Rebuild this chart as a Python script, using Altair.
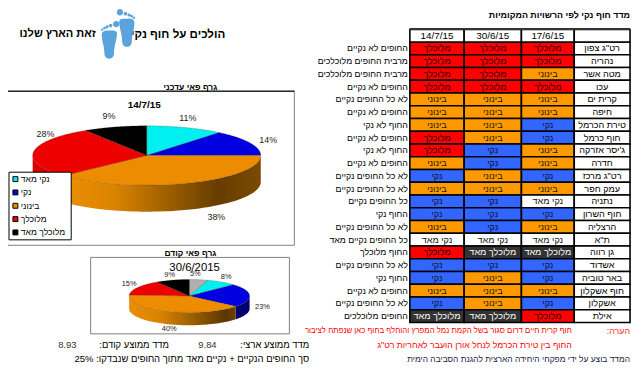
import math
import altair as alt
import numpy as np
import pandas as pd

FONT = "Liberation Sans"
RLM = "\u200f"
OX, OY = 8, 8

DATES = ["14/7/15", "30/6/15", "17/6/15"]
PLACES = ['רט"ג צפון', "נהריה", "מטה אשר", "עכו", "קרית ים", "חיפה", "טירת הכרמל", "חוף כרמל",
          "ג'יסר אזרקה", "חדרה", 'רט"ג מרכז', "עמק חפר", "נתניה", "חוף השרון", "הרצליה", 'ת"א',
          "גן רווה", "אשדוד", "באר טוביה", "חוף אשקלון", "אשקלון", "אילת"]
VC, C, M, D, VD = "נקי מאד", "נקי", "בינוני", "מלוכלך", "מלוכלך מאד"
COL_1 = [D, D, D, D, M, M, M, D, D, M, C, M, C, C, M, VC, D, C, C, M, C, VD]
COL_2 = [D, D, D, D, M, M, M, M, C, C, M, M, C, C, C, VC, VD, C, M, M, M, VD]
COL_3 = [D, D, M, D, M, M, C, C, M, M, C, M, VC, C, M, VC, VD, C, C, M, C, D]
COMMENTS = ["החופים לא נקיים", "מרבית החופים מלוכלכים", "מרבית החופים מלוכלכים", "החופים לא נקיים",
            "לא כל החופים נקיים", "החופים לא נקיים", "החוף לא נקי", "החופים לא נקיים", "החוף לא נקי",
            "החופים לא נקיים", "לא כל החופים נקיים", "לא כל החופים נקיים", "כל החופים נקיים", "החוף נקי",
            "לא כל החופים נקיים", "כל החופים נקיים מאד", "החוף מלוכלך", "לא כל החופים נקיים", "החוף נקי",
            "החופים לא נקיים", "לא כל החופים נקיים", "החופים מלוכלכים"]
CELL_FILL = {VC: "#ffffff", C: "#3366ff", M: "#ff9900", D: "#ff0000", VD: "#333333"}
CELL_TEXT = {VC: "#111111", C: "#111133", M: "#222200", D: "#220000", VD: "#ffffff"}

LEGEND = [VC, C, M, D, VD]
PIE_NOW = [11, 14, 38, 28, 9]
PIE_NOW_COLORS = ["#00f0f0", "#0000e0", "#ee8c00", "#ee0000", "#000000"]
PIE_PREV = [5, 8, 23, 40, 15, 9]
PIE_PREV_COLORS = ["#b0b0b0", "#00f0f0", "#0000e0", "#ee8c00", "#ee0000", "#000000"]
PIE_NOW_WALLS = ["#00f0f0", "#000070", None, "#d80000", "#000000"]
PIE_PREV_WALLS = ["#808080", "#00a0a0", "#000070", None, "#d80000", "#000000"]
ORANGE_WALL = [(0, "#ec8e00"), (0.25, "#dc8500"), (0.78, "#663d00"), (1, "#7a4a00")]
ORANGE_WALL_PREV = [(0, "#ec8e00"), (0.3, "#d88300"), (0.9, "#5c3700"), (1, "#6a4000")]
NOW_LABEL_NUDGE = [(2.5, -10), (18.5, -2.5), (28, 35), (12, -18), (-6, -11)]
PREV_LABEL_NUDGE = [(-3.5, -6), (4.6, -5), (13, 12), (2, 18), (-8.5, -4), (-3, -5.6)]


def X(v):
    return v - OX


def Y(v):
    return v - OY


def note(text, x, y, size=10, bold=False, align="right", color="#000000"):
    return alt.Chart(alt.Data(values=[{"t": text}])).mark_text(
        font=FONT, fontSize=size, fontWeight="bold" if bold else "normal",
        align=align, baseline="middle", color=color,
    ).encode(x=alt.value(X(x)), y=alt.value(Y(y)), text="t:N")


def box(x0, y0, x1, y1, fill="#ffffff", stroke="#808080", sw=1.0):
    return alt.Chart(alt.Data(values=[{}])).mark_rect(
        fill=fill, stroke=stroke, strokeWidth=sw,
    ).encode(x=alt.value(X(x0)), x2=alt.value(X(x1)), y=alt.value(Y(y0)), y2=alt.value(Y(y1)))


def slice_polygon(t0, t1):
    ts = np.linspace(t0, t1, 60)
    pts = [(0.0, 0.0)] + [(math.sin(t), -math.cos(t)) for t in ts]
    return pts


def vertical_spans(pts):
    xs = sorted({round(p[0], 6) for p in pts})
    rows = []
    n = len(pts)
    for x in xs:
        ys = []
        for i in range(n):
            a, b = pts[i], pts[(i + 1) % n]
            ax, bx = round(a[0], 6), round(b[0], 6)
            if min(ax, bx) <= x <= max(ax, bx):
                if ax == bx:
                    ys += [a[1], b[1]]
                else:
                    ys.append(a[1] + (b[1] - a[1]) * (x - ax) / (bx - ax))
        rows.append((x, min(ys), max(ys)))
    return rows


def pie(values, colors, walls, orange_stops, nudges, cx, cy, rx, ry, depth, lab_size):
    xs = alt.Scale(domain=[-1, 1], range=[X(cx - rx), X(cx + rx)], nice=False, zero=False)
    ys = alt.Scale(domain=[-1, 1], range=[Y(cy - ry), Y(cy + ry)], nice=False, zero=False)
    top, wall, labels = [], [], []
    cum = 0.0
    for k, v in enumerate(values):
        t0, t1 = 2 * math.pi * cum / 100, 2 * math.pi * (cum + v) / 100
        cum += v
        for x, lo, hi in vertical_spans(slice_polygon(t0, t1)):
            top.append({"s": k, "x": x, "a": lo, "b": hi, "fill": colors[k]})
        w0, w1 = max(t0, math.pi / 2), min(t1, 3 * math.pi / 2)
        if w1 > w0:
            for t in np.linspace(w0, w1, 60):
                wall.append({"s": k, "x": round(math.sin(t), 6), "a": -math.cos(t),
                             "b": -math.cos(t) + depth / ry, "fill": walls[k] or "gradient"})
        mid = (t0 + t1) / 2
        labels.append({"t": f"{v}%", "x": math.sin(mid) + nudges[k][0] / rx,
                       "y": -math.cos(mid) + nudges[k][1] / ry})
    wall_df = pd.DataFrame(wall)
    plain = wall_df[wall_df.fill != "gradient"]
    grad = wall_df[wall_df.fill == "gradient"]
    gradient = alt.Gradient(gradient="linear", x1=0, x2=1, y1=0, y2=0,
                            stops=[alt.GradientStop(offset=o, color=c) for o, c in orange_stops])
    enc = dict(x=alt.X("x:Q", scale=xs, axis=None),
               y=alt.Y("a:Q", scale=ys, axis=None, stack=None),
               y2="b:Q")
    layers = []
    if len(plain):
        layers.append(alt.Chart(plain).mark_area(interpolate="linear").encode(
            color=alt.Color("fill:N", scale=None), detail="s:N", **enc))
    layers.append(alt.Chart(grad).mark_area(interpolate="linear", color=gradient).encode(**enc))
    layers.append(alt.Chart(pd.DataFrame(top)).mark_area(
        interpolate="linear", stroke="#3a2000", strokeWidth=0.3, strokeOpacity=0.7).encode(
        color=alt.Color("fill:N", scale=None), stroke=alt.value("#3a2000"), detail="s:N", **enc))
    layers.append(alt.Chart(pd.DataFrame(labels)).mark_text(
        font=FONT, fontSize=lab_size, align="center", baseline="middle", color="#222222").encode(
        x=alt.X("x:Q", scale=xs, axis=None), y=alt.Y("y:Q", scale=ys, axis=None), text="t:N"))
    return layers


# ---- table ----
rows = []
for j, place in enumerate(PLACES):
    for i, col in enumerate([COL_1, COL_2, COL_3]):
        s = col[j]
        rows.append({"i": i, "i2": i + 1, "ic": i + 0.5, "j": j + 1, "j2": j + 2, "jc": j + 1.5,
                     "t": s, "fill": CELL_FILL[s], "ink": CELL_TEXT[s]})
    rows.append({"i": 3, "i2": 4, "ic": 3.5, "j": j + 1, "j2": j + 2, "jc": j + 1.5,
                 "t": place, "fill": "#ffffff", "ink": "#000000"})
for i in range(4):
    rows.append({"i": i, "i2": i + 1, "ic": i + 0.5, "j": 0, "j2": 1, "jc": 0.5,
                 "t": "", "fill": "#ffffff", "ink": "#000000"})
table = pd.DataFrame(rows)
header = pd.DataFrame({"t": DATES, "ic": [0.5, 1.5, 2.5], "jc": [0.5, 0.5, 0.5]})
tx = alt.Scale(domain=[0, 1, 2, 3, 4], range=[X(415), X(470), X(528), X(581.5), X(638)], nice=False, zero=False)
ty = alt.Scale(domain=[0, 1, 23], range=[Y(27.5), Y(40.2), Y(324.3)], nice=False, zero=False)
cells = alt.Chart(table).mark_rect(stroke="#000000", strokeWidth=1.6).encode(
    x=alt.X("i:Q", scale=tx, axis=None), x2="i2:Q",
    y=alt.Y("j:Q", scale=ty, axis=None), y2="j2:Q",
    fill=alt.Fill("fill:N", scale=None))
cell_text = alt.Chart(table).mark_text(font=FONT, fontSize=9.2, align="center", baseline="middle").encode(
    x=alt.X("ic:Q", scale=tx, axis=None), y=alt.Y("jc:Q", scale=ty, axis=None),
    text="t:N", color=alt.Color("ink:N", scale=None))
header_text = alt.Chart(header).mark_text(font=FONT, fontSize=10, align="center", baseline="middle", color="#000000").encode(
    x=alt.X("ic:Q", scale=tx, axis=None), y=alt.Y("jc:Q", scale=ty, axis=None), text="t:N")
comm = pd.DataFrame({"t": COMMENTS, "jc": [k + 1.5 for k in range(len(COMMENTS))]})
comment_text = alt.Chart(comm).mark_text(font=FONT, fontSize=8.9, align="right", baseline="middle", color="#000000").encode(
    x=alt.value(X(413)), y=alt.Y("jc:Q", scale=ty, axis=None), text="t:N")


# ---- logo ----
def circ(x, y, r):
    return f"M{x - r} {y}a{r} {r} 0 1 0 {2 * r} 0a{r} {r} 0 1 0 {-2 * r} 0Z"


def foot(m):
    sole = (f"M{-.03 * m} .95C{-.2 * m} .95 {-.27 * m} .8 {-.27 * m} .65C{-.27 * m} .3 {-.42 * m} 0 {-.4 * m} -.3"
            f"C{-.38 * m} -.45 {-.2 * m} -.5 {-.05 * m} -.47C{.15 * m} -.47 {.35 * m} -.5 {.37 * m} -.35"
            f"C{.38 * m} -.05 {.22 * m} .3 {.22 * m} .65C{.22 * m} .85 {.12 * m} .95 {-.03 * m} .95Z")
    toes = [(.33, -.8, .16), (.05, -.73, .09), (-.13, -.66, .08), (-.26, -.6, .07), (-.38, -.52, .06)]
    return sole + "".join(circ(x * m, y, r) for x, y, r in toes)


def foot_mark(m, x, y):
    return alt.Chart(alt.Data(values=[{}])).mark_point(
        shape=foot(m), filled=True, fill="#5ba3dc", stroke=None, opacity=1, size=1600,
    ).encode(x=alt.value(X(x)), y=alt.value(Y(y)))


# ---- legend ----
legend_df = pd.DataFrame({"name": LEGEND, "fill": PIE_NOW_COLORS})
ly = alt.Scale(type="point", domain=LEGEND, range=[Y(179), Y(233)], padding=0)
legend_sw = alt.Chart(legend_df).mark_square(size=25, stroke="#000000", strokeWidth=1, opacity=1).encode(
    x=alt.value(X(15.5)), y=alt.Y("name:N", scale=ly, axis=None),
    fill=alt.Fill("fill:N", scale=None))
legend_tx = alt.Chart(legend_df).mark_text(font=FONT, fontSize=8.7, align="left", baseline="middle", color="#000000").encode(
    x=alt.value(X(21)), y=alt.Y("name:N", scale=ly, axis=None), text="name:N")

layers = [
    note("הולכים על חוף נקי", 228, 32, size=11.7, bold=True),
    note("זאת הארץ שלנו", 97, 32, size=11.2, bold=True),
    foot_mark(1, 111, 38),
    foot_mark(-1, 128, 26),
    note("מדד חוף נקי לפי הרשויות המקומיות", 638, 13, size=9, bold=True),
    box(-5, 90, 298, 246),
    box(-5, 90, 298, 90, stroke="#222222", sw=1),
    note("גרף פאי עדכני", 220, 86, size=8.6, bold=True),
    note("14/7/15", 146, 104, bold=True, align="center"),
]
layers += pie(PIE_NOW, PIE_NOW_COLORS, PIE_NOW_WALLS, ORANGE_WALL, NOW_LABEL_NUDGE, 148.5, 155, 115.5, 30, 27, 9)
layers += [
    box(9, 172, 72, 240.5, stroke="#000000"),
    legend_sw, legend_tx,
    box(91.7, 258.3, 293, 335.7),
    note("גרף פאי קודם", 219, 254, size=8.6, bold=True),
]
layers += pie(PIE_PREV, PIE_PREV_COLORS, PIE_PREV_WALLS, ORANGE_WALL_PREV, PREV_LABEL_NUDGE, 191.7, 297.3, 61, 16.7, 13, 7.5)
layers += [
    note("30/6/2015", 197, 269, size=11.5, align="center"),
    note("מדד ממוצע ארצי:" + RLM, 313, 347, size=9.5),
    note("9.84", 210, 347, size=9.5, align="center", color="#333333"),
    note("מדד ממוצע קודם:" + RLM, 171, 347, size=9.5),
    note("8.93", 68, 347, size=9.5, align="center", color="#333333"),
    note("סך החופים הנקיים + נקיים מאד מתוך החופים שנבדקו: 25%" + RLM, 313, 361, size=9.6),
    cells, cell_text, header_text, comment_text,
    box(415, 27, 638, 27, stroke="#333333", sw=2),
    note("הערה:" + RLM, 638, 333, size=9, color="#ff3030"),
    note("חוף קרית חיים דרום סגור בשל הקמת נמל המפרץ והוחלף בחוף כאן שנפתח לציבור", 579, 333, size=7.9, color="#ff0000"),
    note('החוף בין טירת הכרמל לנחל אורן הועבר לאחריות רט"ג', 579, 347, size=8.8, color="#ff0000"),
    note("המדד בוצע על ידי מפקחי היחידה הארצית להגנת הסביבה הימית", 638, 361, size=8.5, color="#222244"),
]

chart = alt.layer(*layers).resolve_scale(
    x="independent", y="independent", color="independent", fill="independent",
).properties(
    width=632, height=361, padding=0, background="#ffffff",
    autosize=alt.AutoSizeParams(type="none"),
).configure_view(stroke=None)

chart.save("out.html", embed_options={"renderer": "svg", "actions": False})
